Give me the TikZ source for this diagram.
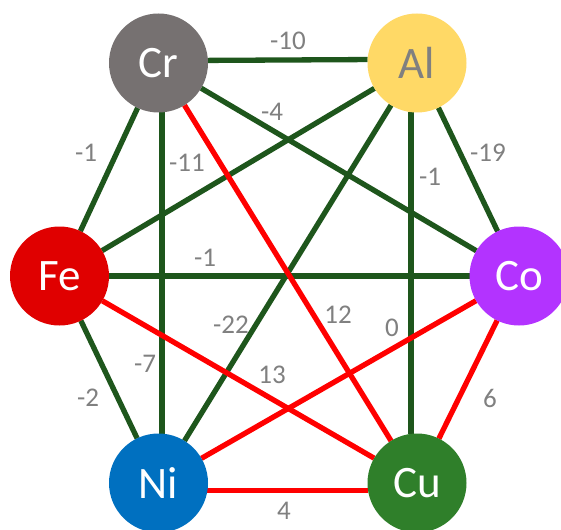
\documentclass[tikz,border=0pt]{standalone}
\usepackage{fontspec}
\setmainfont{Carlito}
\usetikzlibrary{backgrounds}
\definecolor{crgray}{RGB}{118,113,113}
\definecolor{alyellow}{RGB}{255,217,102}
\definecolor{fered}{RGB}{224,0,0}
\definecolor{copurple}{RGB}{179,51,255}
\definecolor{niblue}{RGB}{0,112,192}
\definecolor{cugreen}{RGB}{47,127,42}
\definecolor{edgegreen}{RGB}{30,86,28}
\definecolor{edgered}{RGB}{255,0,0}
\definecolor{labelgray}{RGB}{128,128,128}
\tikzset{
  element/.style={circle, minimum size=99pt, inner sep=0pt, outer sep=0pt,
    text=white, font=\fontsize{45}{54}\selectfont},
  greenedge/.style={draw=edgegreen, line width=5.3pt},
  rededge/.style={draw=edgered, line width=5.3pt},
  weight/.style={text=labelgray, inner sep=0pt, font=\fontsize{27}{32}\selectfont},
}
\begin{document}
\begin{tikzpicture}[x=1pt,y=-1pt]
\clip (0,0) rectangle (561,529);
% nodes
\node[element, fill=crgray]   (Cr) at (158.5,63)  {Cr};
\node[element, fill=alyellow, text=labelgray] (Al) at (417,63) {Al};
\node[element, fill=fered]    (Fe) at (59.5,276)  {Fe};
\node[element, fill=copurple] (Co) at (519,276)   {Co};
\node[element, fill=niblue]   (Ni) at (158.5,483) {Ni};
\node[element, fill=cugreen]  (Cu) at (417,483)   {Cu};
% edges
\begin{scope}[on background layer]
\fill[white] (0,0) rectangle (561,529);
\draw[greenedge] (Cr.3.5) -- (Al.176.5);
\draw[greenedge] (Cr) -- (Fe);
\draw[greenedge] (Cr.-86) -- (Ni.86);
\draw[greenedge] (Cr) -- (Co);
\draw[greenedge] (Al) -- (Fe);
\draw[greenedge] (Al) -- (Ni);
\draw[greenedge] (Al.-97) -- (Cu.97);
\draw[greenedge] (Al) -- (Co);
\draw[greenedge] (Fe) -- (Co);
\draw[greenedge] (Fe) -- (Ni);
\draw[rededge] (Cr) -- (Cu);
\draw[rededge] (Fe) -- (Cu);
\draw[rededge] (Co) -- (Ni);
\draw[rededge] (Co) -- (Cu);
\draw[rededge] (Ni.-9.3) -- (Cu.189.3);
\end{scope}
% weights
\node[weight] (w1)  at (288,41)  {-10};
\node[weight] (w2)  at (272,112) {-4};
\node[weight] (w3)  at (86,153)  {-1};
\node[weight] (w4)  at (187,163) {-11};
\node[weight] (w5)  at (488,153) {-19};
\node[weight] (w6)  at (430,177) {-1};
\node[weight] (w7)  at (205,258) {-1};
\node[weight] (w8)  at (231,325) {-22};
\node[weight] (w9)  at (338,315) {12};
\node[weight] (w10) at (392,328) {0};
\node[weight] (w11) at (145,364) {-7};
\node[weight] (w12) at (272,375) {13};
\node[weight] (w13) at (88,398)  {-2};
\node[weight] (w14) at (490,398) {6};
\node[weight] (w15) at (284,511) {4};
\end{tikzpicture}
\end{document}
